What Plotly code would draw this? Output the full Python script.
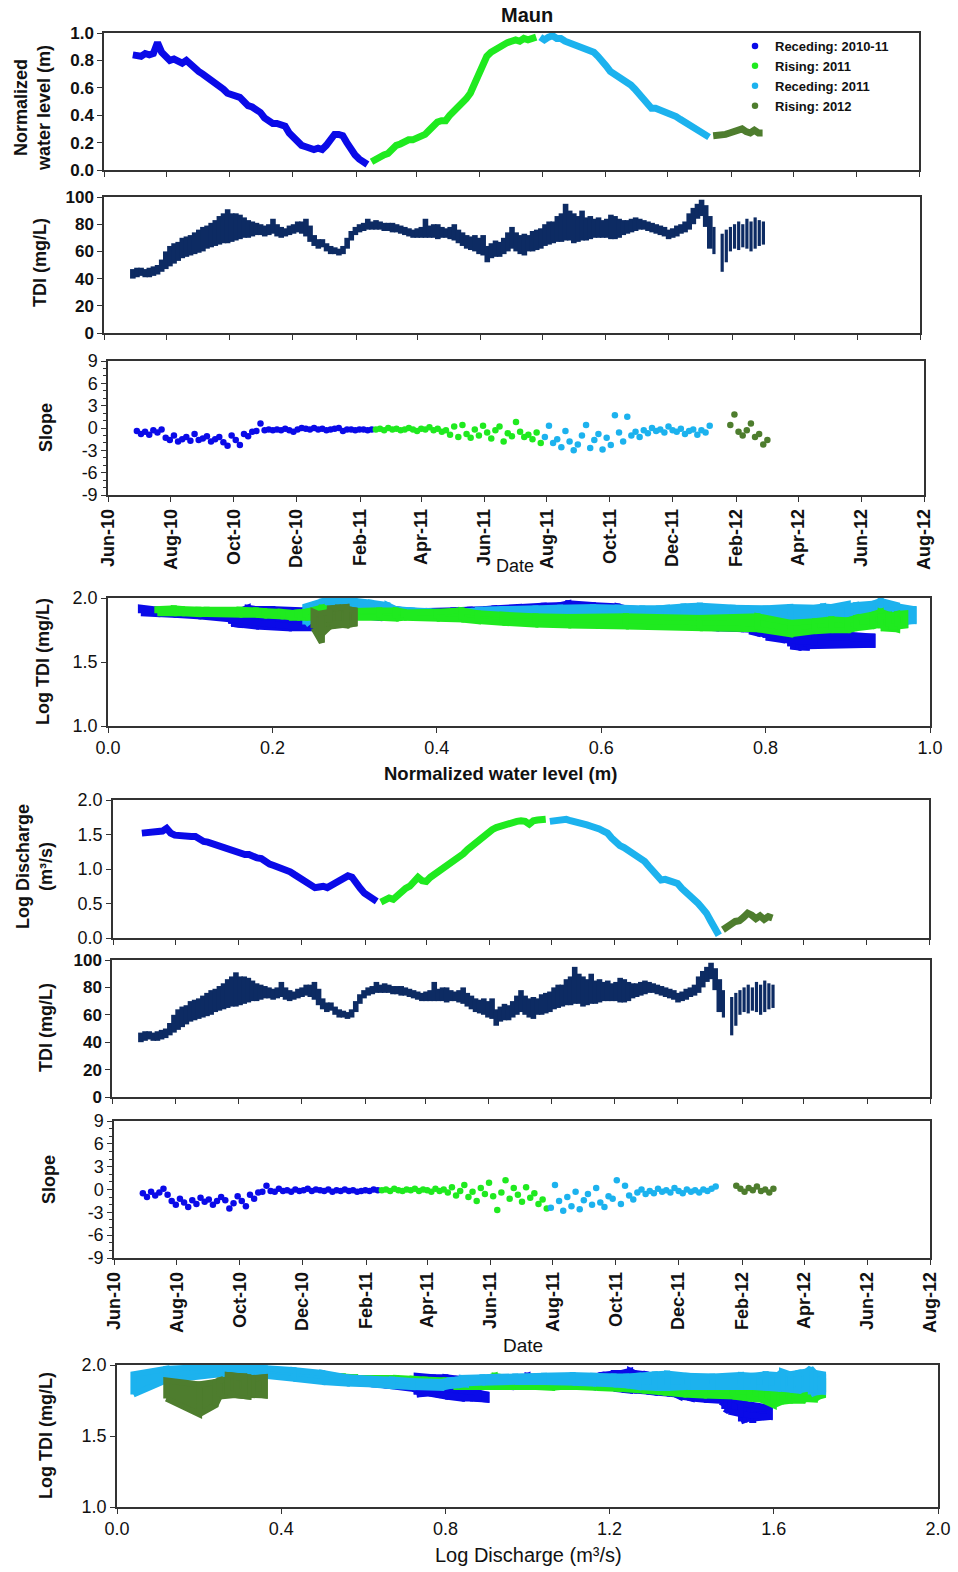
import numpy as np
import pandas as pd
import plotly.graph_objects as go

W, H = 958, 1572

# ---------------------------------------------------------------------------
# Maun monitoring station: one sample every 4 days inside each flood phase
# ---------------------------------------------------------------------------
STEP = "4D"
phase_names = ["Receding: 2010-11", "Rising: 2011", "Receding: 2011", "Rising: 2012"]
phase_colors = ["#0a0ae8", "#1fea1f", "#1cb2ee", "#4e7d2e"]
phase_starts = ["2010-06-29", "2011-02-16", "2011-07-30", "2012-01-14"]
TDI_COLOR = "#0d2b63"

slope_tickvals = [-9, -6, -3, 0, 3, 6, 9]
slope_ticktext = ["-9", "-6", "-3", "0", "3", "6", "9"]

# normalized water level (m)
level_rec_1011 = [0.84, 0.84, 0.83, 0.85, 0.84, 0.85, 0.93, 0.86, 0.82, 0.80,
                  0.81, 0.79, 0.78, 0.80, 0.77, 0.74, 0.72, 0.70, 0.68, 0.66,
                  0.63, 0.62, 0.59, 0.56, 0.55, 0.55, 0.53, 0.50, 0.47, 0.46,
                  0.44, 0.42, 0.38, 0.36, 0.34, 0.34, 0.33, 0.32, 0.27, 0.24,
                  0.20, 0.18, 0.17, 0.16, 0.15, 0.16, 0.15, 0.18, 0.22, 0.26,
                  0.26, 0.25, 0.20, 0.15, 0.11, 0.08, 0.06, 0.04]
level_ris_11 = [0.06, 0.08, 0.09, 0.11, 0.12, 0.16, 0.18, 0.19, 0.21, 0.22,
                0.22, 0.23, 0.24, 0.26, 0.29, 0.33, 0.35, 0.36, 0.36, 0.40,
                0.43, 0.45, 0.48, 0.52, 0.56, 0.63, 0.72, 0.79, 0.83, 0.86,
                0.88, 0.90, 0.91, 0.93, 0.94, 0.95, 0.94, 0.96, 0.95, 0.96,
                0.97]
level_rec_11 = [0.97, 0.95, 0.97, 0.98, 0.96, 0.96, 0.94, 0.93, 0.91, 0.90,
                0.90, 0.88, 0.87, 0.86, 0.83, 0.80, 0.76, 0.72, 0.70, 0.68,
                0.67, 0.65, 0.62, 0.59, 0.55, 0.52, 0.48, 0.45, 0.45, 0.44,
                0.43, 0.42, 0.41, 0.39, 0.37, 0.35, 0.34, 0.32, 0.30, 0.28,
                0.26, 0.24]
level_ris_12 = [0.25, 0.25, 0.26, 0.26, 0.27, 0.28, 0.29, 0.30, 0.28, 0.27,
                0.29, 0.27, 0.27]

# log discharge (m3/s)
logq_rec_1011 = [1.52, 1.53, 1.54, 1.54, 1.55, 1.55, 1.59, 1.52, 1.49, 1.48,
                 1.49, 1.48, 1.47, 1.47, 1.43, 1.40, 1.39, 1.37, 1.36, 1.34,
                 1.31, 1.29, 1.26, 1.25, 1.23, 1.21, 1.21, 1.18, 1.16, 1.15,
                 1.10, 1.07, 1.05, 1.03, 1.00, 0.98, 0.96, 0.92, 0.88, 0.83,
                 0.80, 0.77, 0.73, 0.74, 0.75, 0.73, 0.76, 0.80, 0.84, 0.86,
                 0.90, 0.88, 0.78, 0.72, 0.65, 0.60, 0.58, 0.53]
logq_ris_11 = [0.52, 0.55, 0.58, 0.56, 0.62, 0.68, 0.72, 0.75, 0.80, 0.88,
               0.83, 0.82, 0.88, 0.92, 0.97, 1.02, 1.06, 1.08, 1.12, 1.17,
               1.22, 1.28, 1.33, 1.38, 1.43, 1.50, 1.54, 1.57, 1.60, 1.62,
               1.64, 1.67, 1.68, 1.69, 1.70, 1.69, 1.65, 1.70, 1.71, 1.71,
               1.72]
logq_rec_11 = [1.69, 1.70, 1.72, 1.71, 1.72, 1.70, 1.69, 1.68, 1.66, 1.64,
               1.62, 1.61, 1.58, 1.55, 1.52, 1.45, 1.39, 1.34, 1.31, 1.27,
               1.24, 1.21, 1.16, 1.11, 1.04, 0.97, 0.89, 0.84, 0.85, 0.83,
               0.81, 0.79, 0.72, 0.67, 0.62, 0.56, 0.50, 0.43, 0.36, 0.25,
               0.12, 0.04]
logq_ris_12 = [0.12, 0.15, 0.20, 0.24, 0.25, 0.30, 0.36, 0.33, 0.28, 0.32,
               0.27, 0.31, 0.29]

# TDI (mg/L): lowest and highest reading within each 4-day window
tdi_lo_rec_1011 = [40, 41, 42, 41, 41, 42, 43, 45, 47, 49,
                   51, 53, 55, 56, 57, 58, 59, 60, 62, 63,
                   64, 65, 66, 66, 67, 68, 69, 70, 70, 71,
                   72, 72, 71, 72, 73, 71, 70, 71, 72, 73,
                   74, 73, 71, 67, 64, 62, 63, 60, 58, 58,
                   57, 58, 62, 68, 72, 74, 75, 76]
tdi_hi_rec_1011 = [47, 48, 48, 47, 48, 49, 50, 54, 60, 64,
                   66, 67, 70, 71, 72, 74, 76, 78, 79, 81,
                   83, 86, 88, 91, 88, 88, 87, 85, 83, 82,
                   81, 80, 79, 80, 84, 80, 78, 77, 79, 80,
                   82, 82, 84, 79, 72, 69, 69, 66, 64, 63,
                   62, 64, 70, 75, 78, 80, 81, 84]
tdi_lo_ris_11 = [76, 76, 76, 75, 75, 74, 74, 73, 72, 71,
                 70, 70, 70, 70, 70, 70, 69, 70, 70, 69,
                 68, 66, 64, 62, 61, 60, 58, 57, 52, 55,
                 56, 56, 58, 60, 62, 60, 58, 57, 60, 60,
                 61]
tdi_hi_ris_11 = [82, 83, 82, 81, 81, 81, 80, 79, 78, 77,
                 76, 77, 78, 84, 79, 80, 80, 78, 77, 78,
                 80, 76, 74, 72, 71, 72, 70, 72, 64, 66,
                 68, 67, 70, 74, 78, 74, 72, 73, 72, 75,
                 76]
tdi_lo_rec_11 = [62, 64, 65, 66, 67, 67, 68, 68, 66, 67,
                 68, 68, 69, 70, 70, 70, 70, 69, 69, 70,
                 72, 73, 74, 75, 76, 76, 75, 74, 73, 72,
                 71, 69, 70, 71, 73, 74, 76, 80, 84, 86,
                 78, 62]
tdi_hi_rec_11 = [77, 80, 82, 82, 86, 88, 95, 90, 88, 86,
                 90, 85, 86, 84, 85, 83, 84, 87, 86, 84,
                 83, 83, 84, 85, 84, 83, 82, 81, 80, 79,
                 78, 76, 77, 79, 80, 82, 88, 92, 95, 98,
                 94, 86]
tdi_lo_ris_12 = [58, None, 45, 52, 60, 62, 61, 63, 62, 60, 62, 64, 65]
tdi_hi_ris_12 = [78, None, 73, 76, 78, 80, 82, 80, 84, 82, 85, 83, 82]

# slope of log TDI against normalized water level
slope_wl_rec_1011 = [-0.4, -0.8, -0.5, -0.9, -0.3, -0.6, -0.2, -1.3, -1.6, -1.0,
                     -1.8, -1.5, -1.2, -1.7, -0.8, -1.6, -1.4, -1.1, -1.8, -1.5,
                     -1.2, -1.9, -2.4, -1.0, -1.6, -2.3, -0.8, -1.1, -0.5, -0.4,
                     0.6, -0.3, -0.2, -0.3, -0.2, -0.3, -0.1, -0.3, -0.5, -0.2,
                     0.0, -0.1, -0.2, 0.0, -0.2, -0.1, -0.3, -0.2, -0.1, 0.0,
                     -0.4, -0.2, -0.2, -0.3, -0.2, -0.2, -0.3, -0.2]
slope_wl_ris_11 = [-0.2, -0.1, -0.3, 0.0, -0.2, -0.1, -0.3, -0.2, 0.0, -0.2,
                   -0.4, -0.1, -0.2, 0.1, -0.3, -0.1, -0.5, -0.3, -0.9, 0.2,
                   -1.2, 0.4, -0.8, -1.3, -0.2, -1.0, 0.3, -0.6, -1.4, -0.3,
                   0.2, -1.8, -0.7, -1.1, 0.8, -0.5, -1.2, -0.9, -1.5, -0.6,
                   -2.0]
slope_wl_rec_11 = [-1.2, 0.3, -2.0, -1.5, -2.6, -0.4, -1.8, -3.0, -2.2, -1.0,
                   0.4, -2.7, -1.6, -0.8, -2.9, -1.3, -2.3, 1.7, -0.6, -1.8,
                   1.5, -1.0, -0.5, -1.2, -0.3, -0.7, 0.0, -0.4, -0.2, -0.6,
                   0.2, -0.3, -0.5, -0.1, -0.8, -0.4, -0.2, -0.9, -0.3, -0.6,
                   0.3, None]
slope_wl_ris_12 = [None, None, None, 0.4, 1.8, -0.5, -1.0, -0.3, 0.6, -1.2,
                   -0.8, -2.2, -1.6]

# slope of log TDI against log discharge
slope_q_rec_1011 = [-0.5, -1.0, -0.3, -0.8, -0.4, 0.1, -0.7, -1.5, -2.0, -1.2,
                    -1.7, -2.3, -1.4, -1.9, -1.1, -1.6, -1.3, -2.0, -1.5, -1.0,
                    -1.4, -2.5, -1.8, -0.9, -1.5, -2.2, -0.7, -1.2, -0.4, -0.3,
                    0.5, -0.2, -0.3, 0.1, -0.2, -0.1, -0.3, 0.0, -0.2, -0.1,
                    0.1, -0.2, 0.0, -0.1, -0.2, 0.0, -0.3, -0.1, -0.2, 0.0,
                    -0.2, -0.1, -0.3, -0.2, -0.1, -0.2, 0.0, -0.1]
slope_q_ris_11 = [-0.1, 0.0, -0.2, 0.1, -0.1, -0.2, 0.0, -0.1, 0.1, -0.2,
                  0.0, -0.1, -0.3, 0.1, -0.2, 0.0, -0.4, 0.3, -0.8, -0.2,
                  0.6, -1.0, -0.3, -1.5, 0.2, -0.6, 0.9, -0.9, -2.7, -0.4,
                  1.2, -1.2, 0.2, -0.7, -1.6, 0.3, -1.1, -0.5, -1.9, -1.3,
                  -2.5]
slope_q_rec_11 = [-2.4, 0.6, -1.5, -2.8, -1.0, -2.2, -0.3, -2.6, -1.4, -0.6,
                  -2.0, 0.2, -1.7, -2.3, -0.9, -1.2, 1.2, -1.9, 0.5, -0.8,
                  -1.3, -0.4, 0.0, -0.6, -0.2, -0.5, 0.1, -0.3, -0.1, -0.4,
                  0.2, -0.2, -0.5, 0.0, -0.3, -0.1, -0.4, 0.0, -0.2, 0.1,
                  0.4, None]
slope_q_ris_12 = [None, None, None, 0.5, 0.1, -0.3, 0.2, -0.1, 0.4, -0.2,
                  0.0, -0.4, 0.1]

levels = [level_rec_1011, level_ris_11, level_rec_11, level_ris_12]
logqs = [logq_rec_1011, logq_ris_11, logq_rec_11, logq_ris_12]
tdi_los = [tdi_lo_rec_1011, tdi_lo_ris_11, tdi_lo_rec_11, tdi_lo_ris_12]
tdi_his = [tdi_hi_rec_1011, tdi_hi_ris_11, tdi_hi_rec_11, tdi_hi_ris_12]
slopes_wl = [slope_wl_rec_1011, slope_wl_ris_11, slope_wl_rec_11, slope_wl_ris_12]
slopes_q = [slope_q_rec_1011, slope_q_ris_11, slope_q_rec_11, slope_q_ris_12]
dates = [pd.date_range(s, periods=len(v), freq=STEP) for s, v in zip(phase_starts, levels)]

# ---------------------------------------------------------------------------
# layout helpers (pixel boxes of the eight panels)
# ---------------------------------------------------------------------------
panels = {
    1: (104, 919, 33, 170),
    2: (104, 920, 197, 333),
    3: (108, 924, 361, 495),
    4: (108, 930, 598, 726),
    5: (113, 929, 800, 938),
    6: (112, 930, 960, 1097),
    7: (114, 930, 1121, 1258),
    8: (117, 938, 1365, 1507),
}

ARIAL_B = dict(family="Arial, 'Liberation Sans', sans-serif", size=17, color="#111111", weight="bold")
NARROW = dict(family="'Liberation Sans Narrow', 'Arial Narrow', 'Liberation Sans', sans-serif",
              size=18, color="#111111")

axis_base = dict(showline=True, mirror=True, linecolor="#333333", linewidth=1.5,
                 ticks="outside", ticklen=5, tickwidth=1.3, tickcolor="#333333",
                 showgrid=False, zeroline=False, automargin=False)

DATE_RANGE = ["2010-06-01", "2012-08-01"]


def date_axis(labels):
    return dict(axis_base, type="date", range=DATE_RANGE, tick0="2010-06-01", dtick="M2",
                tickformat="%b-%y", showticklabels=labels, tickangle=-90,
                tickfont=dict(ARIAL_B, size=18))


fig = go.Figure()
layout = dict(width=W, height=H, margin=dict(l=0, r=0, t=0, b=0),
              paper_bgcolor="white", plot_bgcolor="white", template="none",
              showlegend=True)

for i, (l, r, t, b) in panels.items():
    sfx = "" if i == 1 else str(i)
    layout["xaxis" + sfx] = dict(domain=[l / W, r / W], anchor="y" + sfx)
    layout["yaxis" + sfx] = dict(domain=[1 - b / H, 1 - t / H], anchor="x" + sfx)

# date panels
for i in (1, 2, 3, 5, 6, 7):
    sfx = "" if i == 1 else str(i)
    layout["xaxis" + sfx].update(date_axis(i in (3, 7)))

# y axes
layout["yaxis"].update(axis_base, range=[0, 1], dtick=0.2, tickformat=".1f", tickfont=ARIAL_B)
layout["yaxis2"].update(axis_base, range=[0, 100], dtick=20, tickfont=ARIAL_B)
layout["yaxis6"].update(axis_base, range=[0, 100], dtick=20, tickfont=ARIAL_B)
for k in ("yaxis3", "yaxis7"):
    layout[k].update(axis_base, range=[-9, 9], tickmode="array", tickvals=slope_tickvals,
                     ticktext=slope_ticktext, tickfont=NARROW,
                     minor=dict(dtick=1, tick0=0, ticks="outside", ticklen=3, tickcolor="#333333"))
layout["yaxis5"].update(axis_base, range=[0, 2], dtick=0.5, tickformat=".1f", tickfont=NARROW)
for k in ("yaxis4", "yaxis8"):
    layout[k].update(axis_base, range=[1, 2], dtick=0.5, tickformat=".1f", tickfont=NARROW)
layout["xaxis4"].update(axis_base, range=[0, 1], dtick=0.2, tickformat=".1f", tickfont=NARROW)
layout["xaxis8"].update(axis_base, range=[0, 2], dtick=0.4, tickformat=".1f", tickfont=NARROW)

# ---------------------------------------------------------------------------
# traces
# ---------------------------------------------------------------------------
def sticks(xs, lo, hi):
    """vertical min-max segments, one per sample"""
    px, py = [], []
    for x, a, b in zip(xs, lo, hi):
        if a is None or b is None:
            continue
        px += [x, x, None]
        py += [a, b, None]
    return px, py


for p in range(4):
    c = phase_colors[p]
    # water level and discharge time series
    fig.add_trace(go.Scatter(x=dates[p], y=levels[p], mode="lines", xaxis="x", yaxis="y",
                             line=dict(color=c, width=7), showlegend=False, hoverinfo="skip"))
    fig.add_trace(go.Scatter(x=dates[p], y=logqs[p], mode="lines", xaxis="x5", yaxis="y5",
                             line=dict(color=c, width=7), showlegend=False, hoverinfo="skip"))
    # slope panels (these carry the legend entries)
    fig.add_trace(go.Scatter(x=dates[p], y=slopes_wl[p], mode="markers", xaxis="x3", yaxis="y3",
                             marker=dict(color=c, size=6.5), name=phase_names[p],
                             legendgroup=phase_names[p], showlegend=True))
    fig.add_trace(go.Scatter(x=dates[p], y=slopes_q[p], mode="markers", xaxis="x7", yaxis="y7",
                             marker=dict(color=c, size=6.5), legendgroup=phase_names[p],
                             showlegend=False))

# TDI time series (same record shown twice)
for xa, ya in (("x2", "y2"), ("x6", "y6")):
    for p in range(4):
        sx, sy = sticks(dates[p], tdi_los[p], tdi_his[p])
        fig.add_trace(go.Scatter(x=sx, y=sy, mode="lines", xaxis=xa, yaxis=ya,
                                 line=dict(color=TDI_COLOR, width=5.6 if p < 3 else 3.2),
                                 showlegend=False, hoverinfo="skip"))


def cloud(xvals, lo, hi):
    """log TDI band between consecutive samples, drawn as small quadrilaterals
    (vertices always ordered left to right so every piece winds the same way)"""
    keep = [k for k in range(len(xvals)) if lo[k] is not None and hi[k] is not None]
    xs, ys = [], []
    for a, b in zip(keep[:-1], keep[1:]):
        if xvals[b] < xvals[a]:
            a, b = b, a
        la, ha = np.log10(lo[a]), np.log10(hi[a])
        lb, hb = np.log10(lo[b]), np.log10(hi[b])
        xs += [xvals[a], xvals[a], xvals[b], xvals[b], xvals[a], None]
        ys += [la, ha, hb, lb, la, None]
    return xs, ys


for xa, ya, source, order in (("x4", "y4", levels, [0, 2, 1, 3]),
                              ("x8", "y8", logqs, [0, 1, 2, 3])):
    for p in order:
        cx, cy = cloud(source[p], tdi_los[p], tdi_his[p])
        fig.add_trace(go.Scatter(x=cx, y=cy, mode="lines", fill="toself", fillcolor=phase_colors[p],
                                 xaxis=xa, yaxis=ya, line=dict(color=phase_colors[p], width=6),
                                 showlegend=False, hoverinfo="skip"))

# ---------------------------------------------------------------------------
# titles and labels
# ---------------------------------------------------------------------------
def px_ann(text, x, y, font, angle=0):
    return dict(text=text, x=x / W, y=1 - y / H, xref="paper", yref="paper", showarrow=False,
                textangle=angle, font=font, xanchor="center", yanchor="middle")


TITLE_B = dict(ARIAL_B, size=18)
annotations = [
    px_ann("Maun", 527, 15, dict(ARIAL_B, size=20)),
    px_ann("Normalized<br>water level (m)", 32, 108, TITLE_B, -90),
    px_ann("TDI (mg/L)", 40, 263, TITLE_B, -90),
    px_ann("Slope", 46, 428, TITLE_B, -90),
    px_ann("Date", 515, 566, dict(NARROW, size=18)),
    px_ann("Log TDI (mg/L)", 43, 662, TITLE_B, -90),
    px_ann("Normalized water level (m)", 500, 773, dict(ARIAL_B, size=18.5)),
    px_ann("Log Discharge<br>(m³/s)", 34, 867, TITLE_B, -90),
    px_ann("TDI (mg/L)", 46, 1028, TITLE_B, -90),
    px_ann("Slope", 49, 1180, TITLE_B, -90),
    px_ann("Date", 523, 1345, dict(NARROW, size=19)),
    px_ann("Log TDI (mg/L)", 46, 1436, TITLE_B, -90),
    px_ann("Log Discharge (m³/s)", 528, 1555, dict(NARROW, size=20)),
]
layout["annotations"] = annotations

layout["legend"] = dict(x=735 / W, y=1 - 31 / H, xanchor="left", yanchor="top",
                        bgcolor="rgba(0,0,0,0)", font=dict(ARIAL_B, size=13),
                        itemwidth=30, tracegroupgap=0)

fig.update_layout(**layout)
fig.write_html("out.html")
